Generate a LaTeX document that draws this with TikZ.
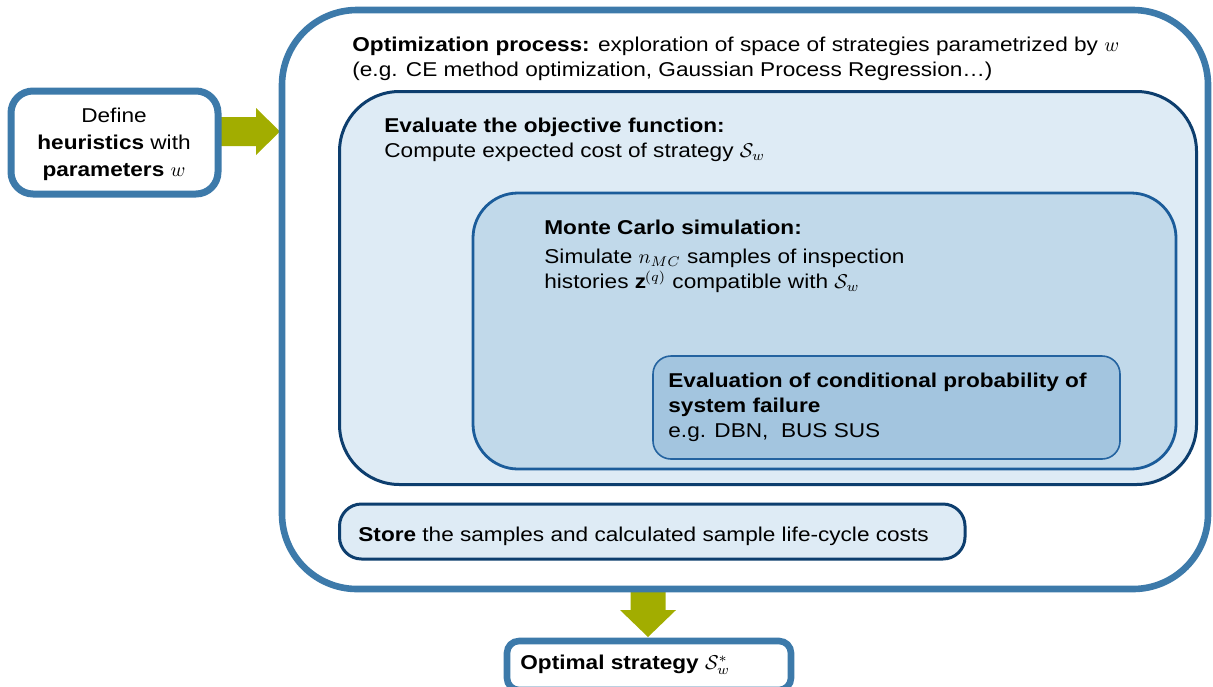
\documentclass[tikz,border=0pt]{standalone}
\usepackage{fontspec}
\setmainfont[FakeStretch=1.13]{Liberation Sans}
\usetikzlibrary{calc,backgrounds}
\definecolor{outerblue}{HTML}{3D7AAA}
\definecolor{tumgreen}{HTML}{A2AD00}
\definecolor{navy}{HTML}{0D3E6E}
\definecolor{midblue}{HTML}{1B5C9A}
\definecolor{bordC}{HTML}{2463A0}
\definecolor{fillA}{HTML}{DEEBF5}
\definecolor{fillB}{HTML}{C1D9EA}
\definecolor{fillC}{HTML}{A3C5DF}
\begin{document}
\begin{tikzpicture}[x=0.5pt,y=-0.5pt,
  box/.style={draw, rectangle, inner sep=0pt, outer sep=0pt, anchor=north west},
  txt/.style={anchor=north west, inner sep=0pt, align=left, font=\fontsize{10}{12.5}\selectfont},
  greenarrow/.style={fill=tumgreen, draw=none}
]
\useasboundingbox (0,0) rectangle (1213,686);
\clip (0,0) rectangle (1213,686);

% boxes
\node[box, draw=outerblue, line width=3.3pt, fill=white, rounded corners=37.5pt,
  minimum width=463pt, minimum height=289.5pt] (outer) at (282,10) {};
\node[box, draw=outerblue, line width=3.5pt, fill=white, rounded corners=11pt,
  minimum width=103.5pt, minimum height=51.5pt] (left) at (11,91) {};
\node[box, draw=navy, line width=1.5pt, fill=fillA, rounded corners=30pt,
  minimum width=428.5pt, minimum height=196.5pt] (evalobj) at (339.5,91.5) {};
\node[box, draw=midblue, line width=1.4pt, fill=fillB, rounded corners=22.5pt,
  minimum width=351.5pt, minimum height=138pt] (monte) at (473,193) {};
\node[box, draw=bordC, line width=0.8pt, fill=fillC, rounded corners=9pt,
  minimum width=233.5pt, minimum height=51.5pt] (cond) at (653,356) {};
\node[box, draw=navy, line width=1.5pt, fill=fillA, rounded corners=11pt,
  minimum width=312.75pt, minimum height=27.5pt] (store) at (339.5,504) {};
\node[box, draw=outerblue, line width=3.3pt, fill=white, rounded corners=6pt,
  minimum width=142pt, minimum height=24.5pt] (optimal) at (507,641) {};

% texts
\node[txt] (outertxt) at (352,37) {\textbf{Optimization process:} exploration of space of strategies parametrized by $w$\\(e.g. CE method optimization, Gaussian Process Regression…)};
\node[txt] (evaltxt) at (384,118) {\textbf{Evaluate the objective function:}\\Compute expected cost of strategy $\mathcal{S}_w$};
\node[txt] (montetxt) at (544,220) {\textbf{Monte Carlo simulation:}\\[2pt]Simulate $n_{MC}$ samples of inspection\\histories $\mathbf{z}^{(q)}$ compatible with $\mathcal{S}_w$};
\node[txt] (condtxt) at (668,373) {\textbf{Evaluation of conditional probability of}\\\textbf{system failure}\\e.g. DBN,\ \ BUS SUS};
\node[txt] (storetxt) at (358,527) {\textbf{Store} the samples and calculated sample life-cycle costs};
\node[txt, anchor=north, align=center, font=\fontsize{10}{13.3}\selectfont] (lefttxt) at (114,108) {Define\\\textbf{heuristics} with\\\textbf{parameters} $w$};
\node[txt] (opttxt) at (520,655) {\textbf{Optimal strategy} $\mathcal{S}^*_w$};

% green arrows
\coordinate (lt) at (280,131.5);
\coordinate (ls) at (left.east |- lt);
\coordinate (dt) at (648,637);
\coordinate (ds) at (dt |- outer.south);
\begin{pgfonlayer}{background}
\fill[greenarrow] ($(ls)+(0,-14.5)$) -- ($(lt)+(-24,-14.5)$) -- ($(lt)+(-24,-23.5)$) -- (lt)
  -- ($(lt)+(-24,23.5)$) -- ($(lt)+(-24,14.5)$) -- ($(ls)+(0,14.5)$) -- cycle;
\fill[greenarrow] ($(ds)+(-17.5,0)$) -- ($(dt)+(-17.5,-27)$) -- ($(dt)+(-28,-27)$) -- (dt)
  -- ($(dt)+(28,-27)$) -- ($(dt)+(17.5,-27)$) -- ($(ds)+(17.5,0)$) -- cycle;
\end{pgfonlayer}
\end{tikzpicture}
\end{document}
